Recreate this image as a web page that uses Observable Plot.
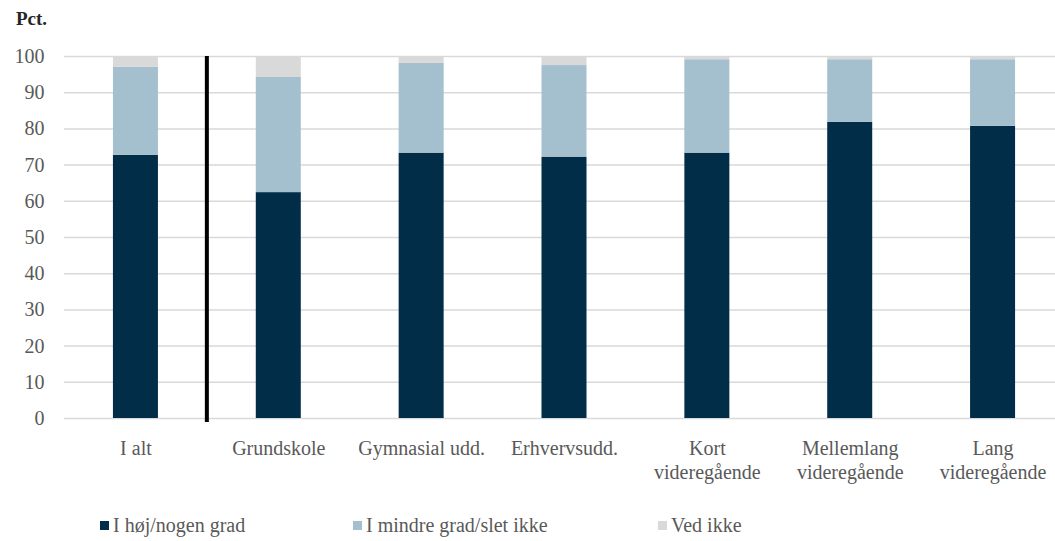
<!DOCTYPE html>
<html>
<head>
<meta charset="utf-8">
<script src="https://cdn.jsdelivr.net/npm/d3@7"></script>
<script src="https://cdn.jsdelivr.net/npm/@observablehq/plot@0.6"></script>
<style>
  body { margin: 0; background: #fff; font-family: "Liberation Serif", serif; }
  #title { height: 40px; box-sizing: border-box; padding: 8px 0 0 16px; font-weight: bold; font-size: 19px; color: #262626; }
  #chart { height: 450px; }
  #legend { position: relative; height: 51px; font-size: 20px; color: #595959; }
  .item { position: absolute; top: 24px; display: flex; align-items: center; white-space: nowrap; }
  .sw { width: 9px; height: 9px; margin-right: 4px; display: inline-block; }
</style>
</head>
<body>
<div id="title">Pct.</div>
<div id="chart"></div>
<div id="legend"></div>
<script>
const categories = ["I alt", "Grundskole", "Gymnasial udd.", "Erhvervsudd.", "Kort\nvideregående", "Mellemlang\nvideregående", "Lang\nvideregående"];
const seriesNames = ["I høj/nogen grad", "I mindre grad/slet ikke", "Ved ikke"];
const hoj = [72.7, 62.4, 73.3, 72.2, 73.3, 81.8, 80.7];
const mindre = [24.3, 31.8, 24.8, 25.3, 25.8, 17.3, 18.4];
const vedIkke = [3.0, 5.8, 1.9, 2.5, 0.9, 0.9, 0.9];
const colors = ["#022d48", "#a4bfcd", "#d9d9d9"];
const yTicks = [0, 10, 20, 30, 40, 50, 60, 70, 80, 90, 100];
const legendLeft = [100, 353, 658];

const seriesValues = [hoj, mindre, vedIkke];
const data = [];
seriesNames.forEach((s, si) => categories.forEach((c, ci) => data.push({cat: c, series: s, value: seriesValues[si][ci]})));

const plot = Plot.plot({
  width: 1055,
  height: 450,
  marginTop: 16,
  marginBottom: 72,
  marginLeft: 64,
  marginRight: -9,
  style: { fontFamily: "Liberation Serif, serif", fontSize: "20px", color: "#595959", background: "#fff", overflow: "hidden" },
  x: { domain: categories, paddingInner: 0.685, paddingOuter: 0.3425, round: false, label: null },
  y: { domain: [0, 100], label: null },
  color: { domain: seriesNames, range: colors },
  marks: [
    Plot.ruleY(yTicks, { stroke: "#d9d9d9", strokeWidth: 1.5 }),
    Plot.barY(data, { x: "cat", y: "value", fill: "series", order: seriesNames }),
    Plot.axisY({ ticks: yTicks, tickSize: 0, tickPadding: 20, fill: "#595959" }),
    Plot.axisX({ tickSize: 0, tickPadding: 19, lineHeight: 1.2, fill: "#595959" })
  ]
});
document.getElementById("chart").appendChild(plot);

// separator between "I alt" and the education groups
const sx = plot.scale("x");
const sy = plot.scale("y");
const xA = sx.apply(categories[0]), xB = sx.apply(categories[1]);
const sepX = (xA + xB) / 2 + sx.bandwidth / 2;
d3.select(plot).append("line")
  .attr("x1", sepX).attr("x2", sepX)
  .attr("y1", sy.apply(100)).attr("y2", sy.apply(0) + 4)
  .attr("stroke", "#000").attr("stroke-width", 4);

const legend = document.getElementById("legend");
seriesNames.forEach((s, i) => {
  const it = document.createElement("div");
  it.className = "item";
  it.style.left = legendLeft[i] + "px";
  it.innerHTML = `<span class="sw" style="background:${colors[i]}"></span><span>${s}</span>`;
  legend.appendChild(it);
});
</script>
</body>
</html>
